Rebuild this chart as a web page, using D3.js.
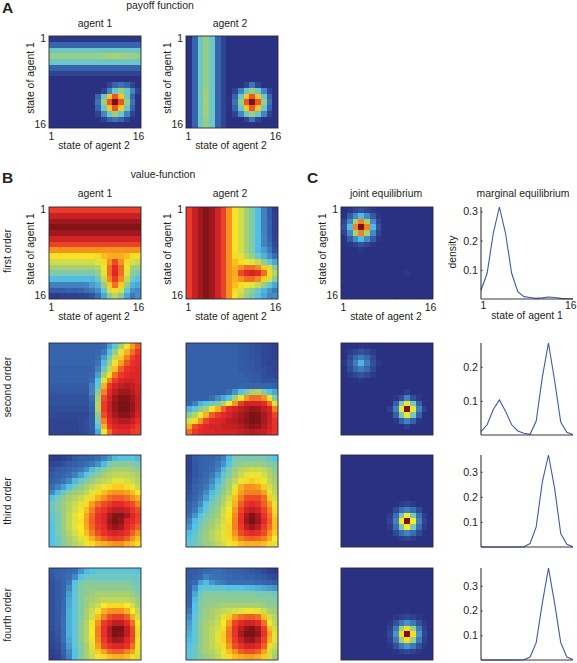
<!DOCTYPE html>
<html><head><meta charset="utf-8">
<script src="https://cdn.jsdelivr.net/npm/d3@7"></script>
<style>html,body{margin:0;background:#fff}svg{display:block}text{font-family:"Liberation Sans",Arial,sans-serif;fill:#231f20}</style>
</head><body><svg id="c" width="577" height="663"></svg>
<script>
const states = d3.range(1,17);
const stateTicks = [1,16];
const colorStops = [0,5,15,36,50,64,76,88,94,99];
const colorValues = ["#2a2f80","#2b3283","#3560aa","#55c3e6","#a8d070","#f9e926","#f6931e","#e7282a","#a81a1f","#7b1214"];

const payoffAgent1 = [
[6,6,6,6,6,6,6,6,6,6,6,6,6,6,6,6],
[16,16,16,16,16,16,16,16,16,16,16,16,16,16,16,16],
[40,40,40,40,40,40,40,40,40,40,40,40,40,40,40,40],
[47,47,47,47,47,47,47,47,47,49,50,51,50,49,47,47],
[40,40,40,40,40,40,40,40,40,40,40,40,40,40,40,40],
[16,16,16,16,16,16,16,16,16,16,16,16,16,16,16,16],
[9,9,9,9,9,9,9,9,9,9,9,9,9,9,9,9],
[3,3,3,3,3,3,3,3,3,3,3,3,3,3,3,3],
[3,3,3,3,3,3,3,3,3,4,9,16,19,16,9,4],
[3,3,3,3,3,3,3,3,3,9,23,40,48,40,23,9],
[3,3,3,3,3,3,3,4,16,40,69,83,69,40,16,4],
[3,3,3,3,3,3,3,5,19,48,83,100,83,48,19,5],
[3,3,3,3,3,3,3,4,16,40,69,83,69,40,16,4],
[3,3,3,3,3,3,3,3,9,23,40,48,40,23,9,3],
[3,3,3,3,3,3,3,3,4,9,16,19,16,9,4,3],
[3,3,3,3,3,3,3,3,3,3,4,5,4,3,3,3]];
const payoffAgent2 = [
[5,16,40,47,40,16,9,3,3,3,3,3,3,3,3,3],
[5,16,40,47,40,16,9,3,3,3,3,3,3,3,3,3],
[5,16,40,47,40,16,9,3,3,3,3,3,3,3,3,3],
[5,16,40,47,40,16,9,3,3,3,3,3,3,3,3,3],
[5,16,40,47,40,16,9,3,3,3,3,3,3,3,3,3],
[5,16,40,47,40,16,9,3,3,3,3,3,3,3,3,3],
[5,16,40,47,40,16,9,3,3,3,3,3,3,3,3,3],
[5,16,40,47,40,16,9,3,3,3,3,5,3,3,3,3],
[5,16,40,47,40,16,9,3,3,4,9,19,9,4,3,3],
[5,16,40,49,40,16,9,3,9,23,40,48,40,23,9,3],
[5,16,40,49,40,16,9,4,16,40,69,83,69,40,16,4],
[5,16,40,50,40,16,9,5,19,48,83,100,83,48,19,5],
[5,16,40,49,40,16,9,4,16,40,69,83,69,40,16,4],
[5,16,40,49,40,16,9,3,9,23,40,48,40,23,9,3],
[5,16,40,47,40,16,9,3,3,4,9,19,9,4,3,3],
[5,16,40,47,40,16,9,3,3,3,3,5,3,3,3,3]];

const firstOrderAgent1 = [
[86,86,86,86,86,86,86,86,86,86,86,86,86,86,86,86],
[91,91,91,91,91,91,91,91,91,91,91,91,91,91,91,91],
[95,95,95,95,95,95,95,95,95,95,95,95,95,95,95,95],
[98,98,98,98,98,98,98,98,98,98,98,98,98,98,98,98],
[95,95,95,95,95,95,95,95,95,95,95,95,95,95,95,95],
[90,90,90,90,90,90,90,90,90,90,90,90,90,90,90,90],
[85,85,85,85,85,85,85,85,85,85,85,85,85,85,85,85],
[76,76,76,76,76,76,76,76,76,76,76,76,76,76,76,76],
[65,65,65,65,65,65,65,65,66,70,72,73,72,70,66,65],
[57,57,57,57,57,57,57,57,60,66,76,84,76,66,58,55],
[50,50,50,50,50,50,50,50,53,62,80,88,80,62,50,48],
[43,43,43,43,43,43,43,43,47,60,80,89,80,60,46,42],
[35,35,35,35,35,35,35,34,40,55,77,86,77,55,40,36],
[22,22,22,22,22,22,23,28,32,47,68,80,68,47,33,30],
[14,14,14,15,15,16,18,20,25,38,58,66,58,38,26,24],
[7,7,8,8,8,9,10,12,18,30,45,52,45,30,20,25]];
const firstOrderAgent2 = [
[86,91,95,98,95,90,85,76,65,57,50,43,35,22,14,7],
[86,91,95,98,95,90,85,76,65,57,50,43,35,22,14,8],
[86,91,95,98,95,90,85,76,65,57,50,43,35,22,15,8],
[86,91,95,98,95,90,85,76,65,57,50,43,35,22,15,8],
[86,91,95,98,95,90,85,76,65,57,50,43,35,22,15,8],
[86,91,95,98,95,90,85,76,65,57,50,43,35,23,16,9],
[86,91,95,98,95,90,85,76,65,57,50,43,35,23,18,10],
[86,91,95,98,95,90,85,76,65,57,50,43,34,28,20,12],
[86,91,95,98,95,90,85,76,66,60,53,47,40,32,25,18],
[86,91,95,98,95,90,85,76,70,66,62,60,55,47,38,30],
[86,91,95,98,95,90,85,76,72,76,80,80,77,68,58,45],
[86,91,95,98,95,90,85,76,73,84,88,90,88,80,66,52],
[86,91,95,98,95,90,85,76,72,76,80,80,77,68,58,45],
[86,91,95,98,95,90,85,76,70,66,62,60,55,47,38,30],
[86,91,95,98,95,90,85,76,66,58,50,46,40,33,26,20],
[86,91,95,98,95,90,85,76,65,55,48,42,36,30,24,25]];

const secondOrderAgent1 = [
[16,16,16,16,16,16,16,16,16,17,28,38,50,62,75,82],
[16,16,16,16,16,16,16,16,17,20,35,48,60,72,80,86],
[16,16,16,16,16,16,16,16,18,28,42,55,68,78,85,88],
[16,16,16,16,16,16,16,16,19,34,48,62,74,83,87,88],
[15,15,15,15,15,15,15,15,22,40,55,70,82,87,88,89],
[15,15,15,15,15,15,15,16,28,50,66,80,86,88,89,89],
[15,15,15,15,15,15,15,18,36,60,78,86,89,90,90,89],
[14,14,14,14,14,14,14,22,38,72,86,90,92,93,92,90],
[13,13,13,13,13,13,13,22,45,78,88,92,95,95,93,90],
[12,12,12,12,12,12,12,18,50,84,90,95,98,98,95,91],
[12,12,12,12,12,12,12,16,52,86,91,96,99,99,96,91],
[11,11,11,11,11,11,11,15,52,86,91,96,99,99,96,91],
[10,10,10,10,10,10,10,14,46,84,90,94,97,97,94,90],
[9,9,9,9,9,10,11,14,42,78,88,91,93,93,91,88],
[9,9,9,9,9,10,11,14,36,72,86,89,90,90,88,86],
[9,9,9,9,9,10,11,13,30,62,80,87,88,88,86,85]];
const secondOrderAgent2 = [
[15,15,15,15,15,15,15,15,15,14,13,12,11,10,9,8],
[15,15,15,15,15,15,15,15,15,14,13,12,11,10,9,8],
[15,15,15,15,15,15,15,15,15,14,13,12,12,10,9,8],
[15,15,15,15,15,15,15,15,15,14,13,13,12,10,9,9],
[15,15,15,15,15,15,15,15,15,14,14,13,12,11,10,9],
[15,15,15,15,15,15,15,15,15,15,14,14,13,11,10,10],
[15,15,15,15,15,15,15,15,15,15,15,14,14,12,12,12],
[15,15,15,15,15,15,15,15,15,16,16,16,16,16,16,15],
[15,15,15,15,15,15,15,18,26,36,42,50,52,44,36,30],
[15,15,15,15,18,24,30,36,50,62,75,80,80,76,62,44],
[16,22,32,36,40,44,52,64,76,86,90,90,90,88,80,60],
[32,38,45,50,62,72,82,88,90,92,94,96,95,92,90,78],
[45,52,62,72,82,86,88,90,92,94,96,99,98,94,91,85],
[58,66,76,85,88,89,90,92,93,95,97,99,98,94,91,87],
[72,84,87,89,90,90,91,91,92,93,95,97,96,93,90,87],
[80,86,88,89,89,90,90,90,90,91,92,93,92,91,89,87]];

const thirdOrderAgent1 = [
[7,7,8,10,13,15,15,16,18,22,27,34,36,36,37,34],
[9,10,12,14,15,16,18,20,25,34,42,44,45,45,44,42],
[12,14,15,16,18,20,25,34,40,44,48,50,50,50,48,46],
[14,15,16,18,22,28,36,42,46,50,52,54,54,54,52,50],
[15,17,19,24,34,40,44,48,52,54,56,60,60,58,56,52],
[18,22,28,36,42,46,50,54,58,62,66,68,68,66,62,56],
[24,34,40,46,48,50,54,60,66,70,74,76,76,74,70,64],
[36,42,46,50,52,56,60,66,72,76,80,82,82,80,76,72],
[40,44,48,52,56,60,66,74,80,84,86,88,88,86,84,78],
[40,44,48,52,58,62,70,78,85,87,90,92,92,90,87,84],
[38,42,48,54,60,64,73,81,87,89,94,98,98,94,89,86],
[38,42,48,54,60,65,74,82,87,89,95,100,96,90,88,85],
[36,42,48,54,60,64,73,81,86,88,93,96,94,89,86,82],
[36,42,46,52,58,63,70,78,84,87,89,90,89,87,82,76],
[36,40,46,50,54,60,66,72,78,82,85,86,85,82,76,70],
[36,40,44,48,52,56,62,66,70,72,74,76,76,72,70,66]];
const thirdOrderAgent2 = [
[9,14,15,16,16,18,22,34,42,42,42,42,42,42,40,36],
[8,13,15,16,17,20,26,36,44,46,48,48,48,46,44,42],
[8,13,15,16,18,22,34,42,48,52,54,56,56,54,50,46],
[9,13,15,17,20,28,38,44,50,56,60,62,62,58,52,48],
[10,14,16,18,24,34,42,48,54,62,66,68,66,62,54,50],
[11,15,17,20,28,38,44,50,60,72,76,76,74,68,58,52],
[12,15,18,24,34,40,46,52,66,74,78,78,78,74,60,54],
[13,16,20,28,38,44,50,56,70,78,84,84,84,80,68,58],
[15,18,24,36,42,46,52,60,72,82,87,88,87,82,74,62],
[16,20,30,38,44,48,56,63,75,85,90,92,90,85,78,66],
[18,26,36,42,46,50,58,65,77,87,94,98,94,87,80,68],
[22,34,40,44,48,52,58,66,78,87,95,100,95,88,82,70],
[26,36,42,46,50,54,60,67,78,86,92,95,92,86,80,70],
[34,38,44,48,52,56,60,67,76,84,87,88,87,84,76,68],
[36,40,44,48,52,56,60,66,72,78,81,82,81,78,72,64],
[38,40,44,48,50,54,58,62,66,70,72,72,72,70,66,60]];

const fourthOrderAgent1 = [
[14,15,16,17,18,26,34,36,38,38,38,38,38,38,38,36],
[13,15,16,18,24,36,40,40,40,40,40,40,40,40,40,40],
[12,14,16,20,36,42,44,44,44,44,44,44,44,44,42,40],
[12,14,16,24,38,44,46,46,46,46,46,46,46,46,44,42],
[12,14,16,28,38,44,46,48,50,50,50,50,50,50,48,44],
[12,14,17,30,38,44,48,50,52,54,54,54,54,54,52,48],
[12,14,17,30,38,44,48,52,56,64,66,66,66,64,58,50],
[12,14,17,32,38,44,50,56,62,72,76,76,76,72,64,54],
[12,14,18,32,38,44,50,58,70,78,84,86,86,82,72,58],
[12,14,18,32,38,46,52,62,76,86,89,92,92,88,80,64],
[11,13,18,32,38,46,52,63,78,87,93,99,99,92,84,66],
[10,13,18,32,38,46,52,64,78,87,93,100,97,92,85,67],
[10,12,18,30,38,46,52,62,77,86,91,95,94,89,84,65],
[9,11,16,28,38,44,50,60,74,84,87,89,89,87,80,63],
[8,10,15,24,36,44,50,58,68,74,80,82,82,78,74,60],
[7,9,14,22,36,44,50,56,62,66,70,72,72,70,66,58]];
const fourthOrderAgent2 = [
[14,14,15,17,18,18,17,16,15,15,14,13,12,10,8,7],
[14,15,17,22,19,18,18,17,16,16,15,15,14,13,11,10],
[15,17,28,34,26,22,20,18,18,18,18,18,17,16,15,14],
[15,24,36,38,38,38,38,36,36,36,35,34,32,30,28,26],
[15,30,40,44,44,44,44,44,44,44,44,44,42,42,42,40],
[16,34,42,46,46,46,46,46,46,46,46,46,46,46,44,44],
[17,36,44,46,48,48,50,50,50,50,50,50,50,48,46,46],
[20,36,44,48,50,52,54,56,58,60,62,62,60,56,50,48],
[24,38,44,48,50,54,60,68,76,80,82,82,80,70,58,52],
[28,38,46,50,52,56,64,74,85,88,90,90,88,80,62,54],
[30,38,46,50,54,58,66,78,87,92,96,98,94,86,70,58],
[32,38,46,50,54,60,68,79,87,94,100,100,96,87,74,60],
[34,38,46,50,54,60,68,78,86,91,95,96,92,85,72,60],
[36,40,46,50,54,58,66,75,84,87,90,90,88,82,66,56],
[38,40,46,50,52,56,62,70,76,82,84,84,82,74,58,52],
[38,40,44,48,50,54,60,66,70,72,74,74,72,68,58,50]];

const jointFirst = [
[4,6,9,12,9,6,4,3,3,3,3,3,3,3,3,3],
[5,14,24,34,24,14,6,4,3,3,3,3,3,3,3,3],
[9,24,50,78,50,24,9,4,3,3,3,3,3,3,3,3],
[12,34,78,100,78,34,12,5,3,3,3,3,3,3,3,3],
[9,24,50,78,50,24,9,4,3,3,3,3,3,3,3,3],
[5,14,24,34,24,14,6,4,3,3,3,3,3,3,3,3],
[4,6,9,12,9,6,4,3,3,3,3,3,3,3,3,3],
[3,4,4,6,4,4,3,3,3,3,3,3,3,3,3,3],
[3,3,3,3,3,3,3,3,3,3,3,3,3,3,3,3],
[3,3,3,3,3,3,3,3,3,3,3,3,3,3,3,3],
[3,3,3,3,3,3,3,3,3,3,3,4,3,3,3,3],
[3,3,3,3,3,3,3,3,3,3,4,6,4,3,3,3],
[3,3,3,3,3,3,3,3,3,3,3,4,3,3,3,3],
[3,3,3,3,3,3,3,3,3,3,3,3,3,3,3,3],
[3,3,3,3,3,3,3,3,3,3,3,3,3,3,3,3],
[3,3,3,3,3,3,3,3,3,3,3,3,3,3,3,3]];
const jointSecond = [
[3,4,5,6,5,4,3,3,3,3,3,3,3,3,3,3],
[3,7,10,12,10,7,3,3,3,3,3,3,3,3,3,3],
[5,10,17,21,17,10,5,3,3,3,3,3,3,3,3,3],
[6,12,21,33,21,12,6,3,3,3,3,3,3,3,3,3],
[5,10,17,21,17,10,5,3,3,3,3,3,3,3,3,3],
[3,7,10,12,10,7,3,3,3,3,3,3,3,3,3,3],
[3,4,5,6,5,4,3,3,3,3,3,3,3,3,3,3],
[3,3,3,4,3,3,3,3,3,3,3,4,3,3,3,3],
[3,3,3,3,3,3,3,3,3,3,4,8,4,3,3,3],
[3,3,3,3,3,3,3,3,3,6,11,22,11,6,3,3],
[3,3,3,3,3,3,3,3,4,15,42,62,42,15,4,3],
[3,3,3,3,3,3,3,3,8,22,62,100,62,22,8,3],
[3,3,3,3,3,3,3,3,4,15,42,62,42,15,4,3],
[3,3,3,3,3,3,3,3,3,6,15,22,15,6,3,3],
[3,3,3,3,3,3,3,3,3,3,4,8,4,3,3,3],
[3,3,3,3,3,3,3,3,3,3,3,3,3,3,3,3]];
const jointThird = [
[3,3,3,3,3,3,3,3,3,3,3,3,3,3,3,3],
[3,3,3,3,3,3,3,3,3,3,3,3,3,3,3,3],
[3,3,3,3,3,3,3,3,3,3,3,3,3,3,3,3],
[3,3,3,3,3,3,3,3,3,3,3,3,3,3,3,3],
[3,3,3,3,3,3,3,3,3,3,3,3,3,3,3,3],
[3,3,3,3,3,3,3,3,3,3,3,3,3,3,3,3],
[3,3,3,3,3,3,3,3,3,3,3,3,3,3,3,3],
[3,3,3,3,3,3,3,3,3,3,3,4,3,3,3,3],
[3,3,3,3,3,3,3,3,3,5,7,9,7,5,3,3],
[3,3,3,3,3,3,3,3,5,10,18,22,18,10,5,3],
[3,3,3,3,3,3,3,3,7,18,42,64,42,18,7,3],
[3,3,3,3,3,3,3,4,9,22,64,100,64,22,9,4],
[3,3,3,3,3,3,3,3,7,18,42,64,42,18,7,3],
[3,3,3,3,3,3,3,3,5,10,18,22,18,10,5,3],
[3,3,3,3,3,3,3,3,3,5,7,9,7,5,3,3],
[3,3,3,3,3,3,3,3,3,3,3,4,3,3,3,3]];
const jointFourth = [
[3,3,3,3,3,3,3,3,3,3,3,3,3,3,3,3],
[3,3,3,3,3,3,3,3,3,3,3,3,3,3,3,3],
[3,3,3,3,3,3,3,3,3,3,3,3,3,3,3,3],
[3,3,3,3,3,3,3,3,3,3,3,3,3,3,3,3],
[3,3,3,3,3,3,3,3,3,3,3,3,3,3,3,3],
[3,3,3,3,3,3,3,3,3,3,3,3,3,3,3,3],
[3,3,3,3,3,3,3,3,3,3,3,3,3,3,3,3],
[3,3,3,3,3,3,3,3,3,3,3,5,3,3,3,3],
[3,3,3,3,3,3,3,3,3,6,8,10,8,6,3,3],
[3,3,3,3,3,3,3,3,6,12,20,26,20,12,6,3],
[3,3,3,3,3,3,3,3,8,20,48,66,48,20,8,3],
[3,3,3,3,3,3,3,5,10,26,66,100,66,26,10,5],
[3,3,3,3,3,3,3,3,8,20,48,66,48,20,8,3],
[3,3,3,3,3,3,3,3,6,12,20,26,20,12,6,3],
[3,3,3,3,3,3,3,3,3,6,8,10,8,6,3,3],
[3,3,3,3,3,3,3,3,3,3,3,5,3,3,3,3]];

const marginalFirst  = [0.03,0.088,0.225,0.315,0.225,0.088,0.025,0.008,0.005,0.002,0.004,0.007,0.005,0.002,0.001,0.001];
const marginalSecond = [0.01,0.03,0.075,0.103,0.07,0.03,0.012,0.005,0.002,0.041,0.17,0.27,0.16,0.038,0.008,0.001];
const marginalThird  = [0,0,0,0,0,0,0,0.001,0.014,0.08,0.26,0.367,0.235,0.054,0.011,0.001];
const marginalFourth = [0,0,0,0,0,0,0,0.001,0.012,0.07,0.23,0.372,0.23,0.07,0.012,0.002];

const svg = d3.select("#c");
const color = d3.scaleLinear().domain(colorStops).range(colorValues).clamp(true);
const FS = 10.4;
const FF = '"Liberation Sans",Arial,sans-serif';
const text = (x,y,s,o={}) => svg.append("text").attr("x",x).attr("y",y).attr("text-anchor",o.a||"middle")
  .attr("font-size",o.fs||FS).attr("font-weight",o.w||null)
  .attr("transform",o.r?`rotate(-90 ${x} ${y})`:null).text(s);

function heat(x0,y0,m,opts={}){
  const size = 92;
  const x = d3.scaleBand().domain(states).range([x0,x0+size]);
  const y = d3.scaleBand().domain(states).range([y0,y0+size]);
  const g = svg.append("g");
  const cells = g.append("g").attr("shape-rendering","crispEdges").style("filter","blur(0.4px)");
  cells.selectAll("g").data(m).join("g").selectAll("rect").data((r,i)=>r.map((v,j)=>({v,i,j}))).join("rect")
    .attr("x",d=>x(states[d.j])).attr("y",d=>y(states[d.i]))
    .attr("width",d=>x.bandwidth()+(d.j<15?1:0)).attr("height",d=>y.bandwidth()+(d.i<15?1:0)).attr("fill",d=>color(d.v));
  g.append("rect").attr("x",x0).attr("y",y0).attr("width",size).attr("height",size)
    .attr("fill","none").attr("stroke","#2b2b33").attr("stroke-width",.9);
  if(opts.labels){
    const lin = d3.scaleLinear().domain([1,16]).range([x0+2,x0+size-3]);
    const axis = d3.axisBottom(lin).tickValues(stateTicks).tickSize(0).tickPadding(0).tickFormat(d3.format("d"));
    const ax = svg.append("g").attr("transform",`translate(0,${y0+size+5})`).call(axis);
    ax.select(".domain").remove();
    ax.selectAll("text").attr("font-size",FS).style("font-family",FF).attr("fill","#231f20");
    text(x0-3,y0+6,"1",{a:"end"});
    text(x0-3,y0+size-.5,"16",{a:"end"});
    text(x0+45,y0+size+21,"state of agent 2");
    text(x0-15,y0+42,"state of agent 1",{r:true});
  }
  if(opts.innerTicks){
    const t = d3.scaleLinear().domain([1,16]).range([x0+3,x0+size-3]);
    [5.5,10,14.5].forEach(v=>{
      g.append("line").attr("x1",t(v)).attr("x2",t(v)).attr("y1",y0+size).attr("y2",y0+size-2).attr("stroke","#222").attr("stroke-width",.6);
      g.append("line").attr("y1",t(v)+y0-x0).attr("y2",t(v)+y0-x0).attr("x1",x0).attr("x2",x0+2).attr("stroke","#222").attr("stroke-width",.6);
    });
  }
}

function marginal(yTop,yBase,vals,ymax,ticks,withLabels){
  const x0=481,x1=573;
  const x = d3.scaleLinear().domain([1,16]).range([x0,x1]);
  const y = d3.scaleLinear().domain([0,ymax]).range([yBase,yTop]);
  svg.append("path").datum(vals)
    .attr("d",d3.line().x((d,i)=>x(states[i])).y(d=>y(d)))
    .attr("fill","none").attr("stroke","#3f5ba6").attr("stroke-width",1.1);
  const ax = svg.append("g").attr("transform",`translate(${x0},0)`)
    .call(d3.axisLeft(y).tickValues(ticks).tickSize(-1.5).tickPadding(3).tickFormat(d3.format(".1f")));
  ax.selectAll("text").attr("font-size",FS+.3).style("font-family",FF).attr("fill","#231f20");
  ax.selectAll("line").attr("stroke","#222");
  ax.select(".domain").attr("stroke","#222").attr("d",`M0,${yTop}V${yBase}`);
  svg.append("line").attr("x1",x0).attr("x2",x1).attr("y1",yBase).attr("y2",yBase).attr("stroke","#222").attr("stroke-width",.9);
  if(withLabels){
    const b = svg.append("g").attr("transform",`translate(0,${yBase+3})`)
      .call(d3.axisBottom(x).tickValues(stateTicks).tickSize(0).tickPadding(0).tickFormat(d3.format("d")));
    b.select(".domain").remove();
    b.selectAll("text").attr("font-size",FS).style("font-family",FF).attr("fill","#231f20");
    b.selectAll("text").filter(d=>d===16).attr("text-anchor","end").attr("x",3);
    b.selectAll("text").filter(d=>d===1).attr("x",2);
    text(527,yBase+20,"state of agent 1");
    text(456,252,"density",{r:true});
  }
}

const col1=49,col2=186,col3=341;
heat(col1,36,payoffAgent1,{labels:true});
heat(col2,36,payoffAgent2,{labels:true});
heat(col1,207,firstOrderAgent1,{labels:true});
heat(col2,207,firstOrderAgent2,{labels:true});
heat(col3,207,jointFirst,{labels:true,innerTicks:true});
marginal(207,299,marginalFirst,0.315,[0.1,0.2,0.3],true);
heat(col1,343,secondOrderAgent1);
heat(col2,343,secondOrderAgent2);
heat(col3,343,jointSecond);
marginal(343,435,marginalSecond,0.27,[0.1,0.2],false);
heat(col1,455,thirdOrderAgent1);
heat(col2,455,thirdOrderAgent2);
heat(col3,455,jointThird);
marginal(455,547,marginalThird,0.367,[0.1,0.2,0.3],false);
heat(col1,568,fourthOrderAgent1);
heat(col2,568,fourthOrderAgent2);
heat(col3,568,jointFourth);
marginal(568,660,marginalFourth,0.372,[0.1,0.2,0.3],false);

text(2,13,"A",{a:"start",fs:15.5,w:"bold"});
text(2,183,"B",{a:"start",fs:15.5,w:"bold"});
text(307,183,"C",{a:"start",fs:15.5,w:"bold"});
text(160,9,"payoff function");
text(95,27,"agent 1"); text(230,27,"agent 2");
text(163,178,"value-function");
text(95,197,"agent 1"); text(230,197,"agent 2");
text(386,197,"joint equilibrium"); text(523,197,"marginal equilibrium");
[["first order",251],["second order",387],["third order",501],["fourth order",615]].forEach(d=>text(11,d[1],d[0],{r:true}));
</script></body></html>
